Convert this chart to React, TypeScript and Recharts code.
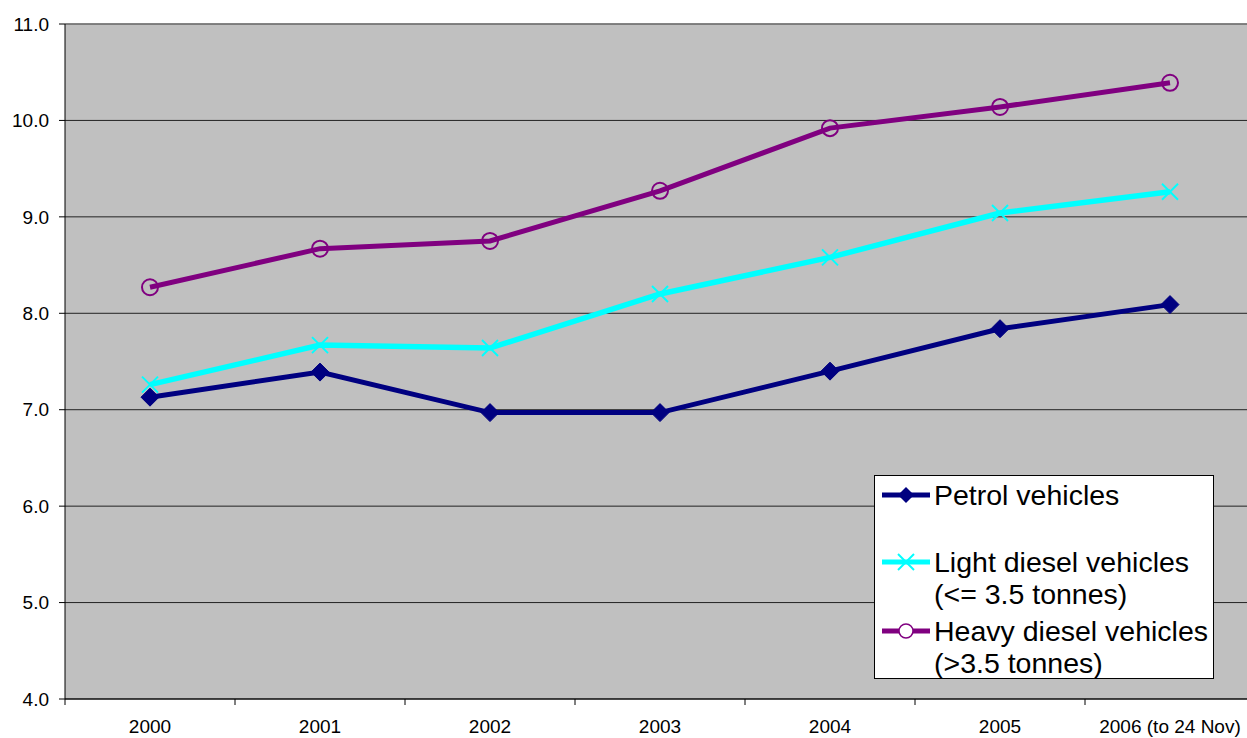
import React from 'react';
import { LineChart, Line, XAxis, YAxis, CartesianGrid, Legend, ReferenceLine } from 'recharts';

const categories = ['2000', '2001', '2002', '2003', '2004', '2005', '2006 (to 24 Nov)'];
const petrol = [7.13, 7.39, 6.97, 6.97, 7.4, 7.84, 8.09];
const lightDiesel = [7.26, 7.67, 7.64, 8.2, 8.58, 9.04, 9.26];
const heavyDiesel = [8.27, 8.67, 8.75, 9.27, 9.92, 10.14, 10.39];
const yTicks = [4, 5, 6, 7, 8, 9, 10, 11];

const seriesNames = {
  petrol: 'Petrol vehicles',
  light: 'Light diesel vehicles (<= 3.5 tonnes)',
  heavy: 'Heavy diesel vehicles (>3.5 tonnes)',
};

const data = categories.map((c, i) => ({
  year: c,
  petrol: petrol[i],
  light: lightDiesel[i],
  heavy: heavyDiesel[i],
}));

const CHART_W = 1252;
const CHART_H = 730;
const MARGIN = { top: 16, right: 5, bottom: 0, left: 0 };
const Y_W = 57;
const PLOT_W = CHART_W - MARGIN.left - MARGIN.right - Y_W;
const X_TICK_SIZE = 6;
const X_TICK_MARGIN = 15;

const NAVY = '#000080';
const CYAN = '#00FFFF';
const PURPLE = '#800080';

const XTick = (props: any) => {
  const { x, y, payload, index } = props;
  const half = PLOT_W / categories.length / 2;
  const axisY = y - X_TICK_SIZE - X_TICK_MARGIN;
  return (
    <g>
      <text x={x} y={y} dy="0.71em" textAnchor="middle" fontSize={19} fill="#000">
        {payload.value}
      </text>
      <line x1={x + half} x2={x + half} y1={axisY} y2={axisY + X_TICK_SIZE} stroke="#000" strokeWidth={1} />
      {index === 0 && (
        <line x1={x - half} x2={x - half} y1={axisY} y2={axisY + X_TICK_SIZE} stroke="#000" strokeWidth={1} />
      )}
    </g>
  );
};

const DiamondDot = (props: any) => {
  const { cx, cy, index } = props;
  const s = 9;
  return (
    <path
      key={`pd-${index}`}
      d={`M${cx},${cy - s} L${cx + s},${cy} L${cx},${cy + s} L${cx - s},${cy} Z`}
      fill={NAVY}
      stroke={NAVY}
    />
  );
};

const CrossDot = (props: any) => {
  const { cx, cy, index } = props;
  const s = 8;
  return (
    <g key={`cd-${index}`}>
      <line x1={cx - s} y1={cy - s} x2={cx + s} y2={cy + s} stroke={CYAN} strokeWidth={2} />
      <line x1={cx - s} y1={cy + s} x2={cx + s} y2={cy - s} stroke={CYAN} strokeWidth={2} />
    </g>
  );
};

const CircleDot = (props: any) => {
  const { cx, cy, index } = props;
  return <circle key={`hd-${index}`} cx={cx} cy={cy} r={8} fill="none" stroke={PURPLE} strokeWidth={2} />;
};

const LegendIcon = ({ kind }: { kind: string }) => {
  const color = kind === 'petrol' ? NAVY : kind === 'light' ? CYAN : PURPLE;
  return (
    <svg width={50} height={20} style={{ position: 'absolute', left: 6, top: 6 }}>
      <line x1={1} y1={10} x2={49} y2={10} stroke={color} strokeWidth={5} />
      {kind === 'petrol' && <path d="M25,2 L33,10 L25,18 L17,10 Z" fill={NAVY} />}
      {kind === 'light' && (
        <g>
          <line x1={17} y1={2} x2={33} y2={18} stroke={CYAN} strokeWidth={2} />
          <line x1={17} y1={18} x2={33} y2={2} stroke={CYAN} strokeWidth={2} />
        </g>
      )}
      {kind === 'heavy' && <circle cx={25} cy={10} r={7} fill="#fff" stroke={PURPLE} strokeWidth={1.5} />}
    </svg>
  );
};

const legendEntries = [
  { kind: 'petrol', lines: ['Petrol vehicles'], top: 3 },
  { kind: 'light', lines: ['Light diesel vehicles', '(<= 3.5 tonnes)'], top: 70 },
  { kind: 'heavy', lines: ['Heavy diesel vehicles', '(>3.5 tonnes)'], top: 139 },
];

const LegendContent = () => (
  <div
    style={{
      position: 'relative',
      width: 340,
      height: 204,
      boxSizing: 'border-box',
      background: '#fff',
      border: '1px solid #000',
      fontSize: 28.5,
      lineHeight: '32px',
      color: '#000',
    }}
  >
    {legendEntries.map((e) => (
      <div key={e.kind} style={{ position: 'absolute', left: 0, top: e.top, width: 338 }}>
        <LegendIcon kind={e.kind} />
        <div style={{ paddingLeft: 59, whiteSpace: 'nowrap' }}>
          {e.lines.map((l, i) => (
            <div key={i}>{l}</div>
          ))}
        </div>
      </div>
    ))}
  </div>
);

export default function App() {
  return (
    <div
      style={{
        position: 'fixed',
        left: 0,
        top: 0,
        width: 1247,
        height: 738,
        overflow: 'hidden',
        background: '#fff',
        fontFamily: '"Liberation Sans", Arial, sans-serif',
      }}
    >
      <div style={{ position: 'absolute', left: 8, top: 8 }}>
        <LineChart width={CHART_W} height={CHART_H} data={data} margin={MARGIN}>
          <CartesianGrid vertical={false} stroke="#222" fill="#C0C0C0" fillOpacity={1} />
          <ReferenceLine y={11} stroke="#808080" strokeWidth={1.5} />
          <XAxis
            dataKey="year"
            scale="band"
            height={CHART_H - MARGIN.top - MARGIN.bottom - 675}
            tickLine={false}
            tickSize={X_TICK_SIZE}
            tickMargin={X_TICK_MARGIN}
            axisLine={{ stroke: '#000' }}
            tick={<XTick />}
            interval={0}
          />
          <YAxis
            width={Y_W}
            domain={[4, 11]}
            ticks={yTicks}
            interval={0}
            tickFormatter={(v: number) => v.toFixed(1)}
            tick={{ fill: '#000', fontSize: 19 }}
            tickSize={6}
            tickMargin={10}
            tickLine={{ stroke: '#000' }}
            axisLine={{ stroke: '#000' }}
            allowDataOverflow
          />
          <Line
            dataKey="petrol"
            name={seriesNames.petrol}
            stroke={NAVY}
            strokeWidth={5}
            dot={DiamondDot}
            activeDot={false}
            isAnimationActive={false}
          />
          <Line
            dataKey="light"
            name={seriesNames.light}
            stroke={CYAN}
            strokeWidth={5.5}
            dot={CrossDot}
            activeDot={false}
            isAnimationActive={false}
          />
          <Line
            dataKey="heavy"
            name={seriesNames.heavy}
            stroke={PURPLE}
            strokeWidth={5}
            dot={CircleDot}
            activeDot={false}
            isAnimationActive={false}
          />
          <Legend
            layout="vertical"
            align="center"
            verticalAlign="middle"
            content={<LegendContent />}
            wrapperStyle={{ position: 'absolute', left: 866, top: 467, width: 340, height: 204 }}
          />
        </LineChart>
      </div>
    </div>
  );
}
